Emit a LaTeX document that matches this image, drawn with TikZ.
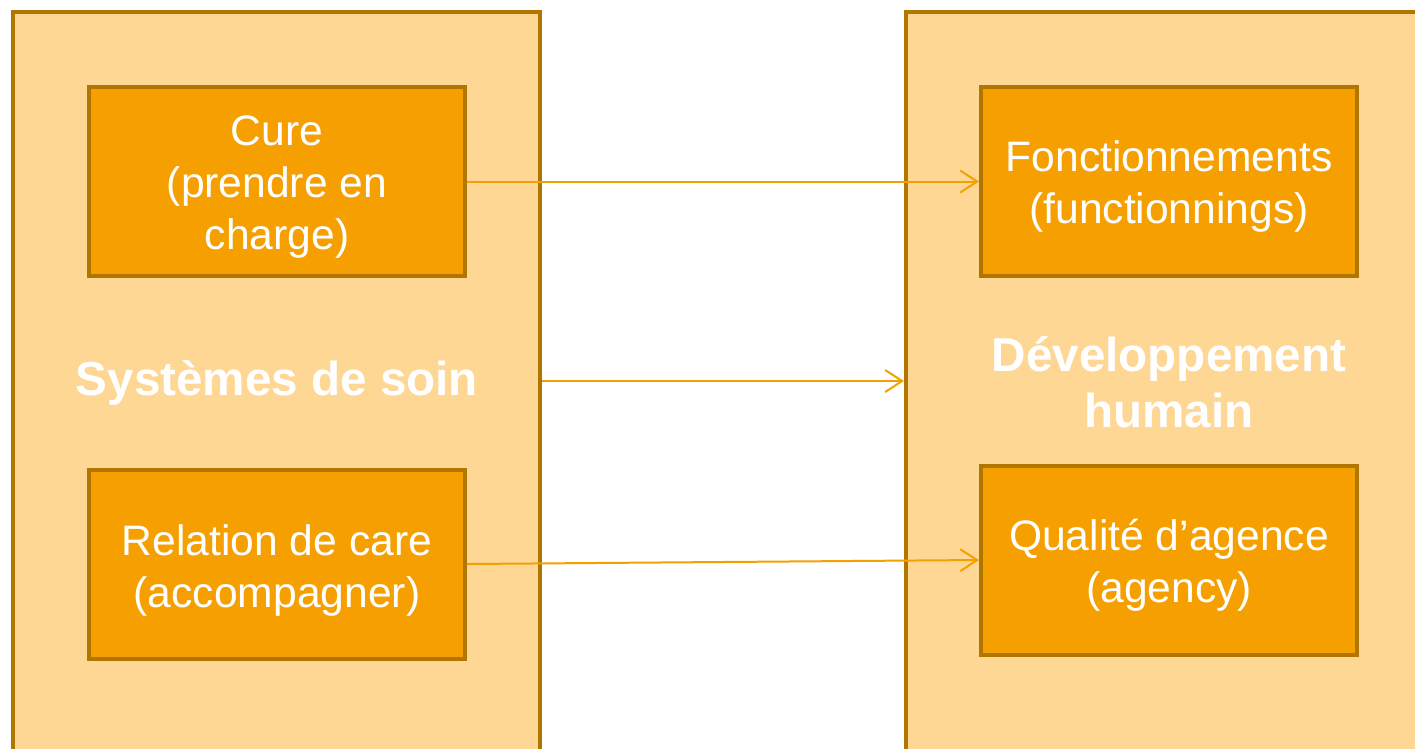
\documentclass[tikz,border=0pt]{standalone}
\usepackage{fontspec}
\setmainfont{Liberation Sans}
\usetikzlibrary{arrows.meta}
\definecolor{lightfill}{HTML}{FFD794}
\definecolor{darkborder}{HTML}{B07600}
\definecolor{innerfill}{HTML}{F5A000}
\definecolor{arrowcol}{HTML}{F4A000}
\tikzset{
  container/.style={draw=darkborder, fill=lightfill, line width=4pt, rectangle, inner sep=0pt, anchor=north west},
  innerbox/.style={draw=darkborder, fill=innerfill, line width=4pt, rectangle, inner sep=0pt,
    minimum width=376pt, minimum height=189pt},
  innertext/.style={text=white, align=center, inner sep=0pt, font=\fontsize{42.6}{52}\selectfont},
  titletext/.style={text=white, align=center, inner sep=0pt, font=\fontsize{47.6}{56}\selectfont\bfseries},
  link/.style={draw=arrowcol, line width=2pt, -{Straight Barb[length=17pt,width=22pt,line width=2pt]}}
}
\begin{document}
\begin{tikzpicture}[x=1pt,y=-1pt]
\useasboundingbox (0,0) rectangle (1415,748);
\begin{scope}
\clip (0,0) rectangle (1415,748);
\node[container, minimum width=527pt, minimum height=800pt] (L) at (11,10) {};
\node[container, draw=none, minimum width=600pt, minimum height=800pt] (R) at (904,10) {};
\draw[darkborder, line width=4pt] (1500,12) -- (906,12) -- (906,760);
\end{scope}
\node[innerbox] (cure) at (277,181.5) {};
\node[innerbox] (relation) at (277,564) {};
\node[innerbox] (fonct) at (1169,181.5) {};
\node[innerbox] (qualite) at (1169,560) {};
\node[innertext] (curetext) at ([yshift=-6pt]cure.center) {Cure\\(prendre en\\charge)};
\node[innertext] (relationtext) at ([yshift=-6pt]relation.center) {Relation de care\\(accompagner)};
\node[innertext] (fonctext) at ([yshift=-5pt]fonct.center) {Fonctionnements\\(functionnings)};
\node[innertext] (qualitetext) at ([yshift=-5pt]qualite.center) {Qualité d’agence\\(agency)};
\node[titletext] (ltitle) at (277,383) {Systèmes de soin};
\node[titletext] (rtitle) at (1169,382) {Développement\\humain};
\draw[link] (cure.east) -- (fonct.west);
\draw[link] (L.east |- 0,381) -- (R.west |- 0,381);
\draw[link] (relation.east) -- (qualite.west);
\end{tikzpicture}
\end{document}
